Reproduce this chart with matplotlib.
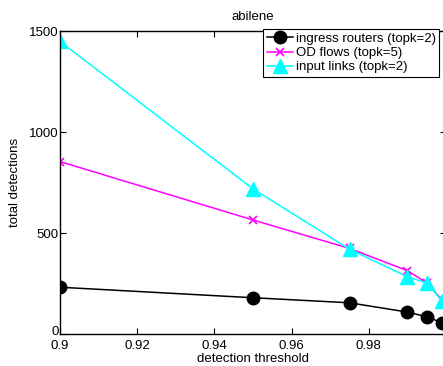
import matplotlib
matplotlib.use('Agg')
import matplotlib.pyplot as plt
import matplotlib.transforms as mtransforms

# detection thresholds
thresholds = [0.9, 0.95, 0.975, 0.99, 0.995, 0.999]

# total detections per series
ingress_routers = [233, 181, 156, 110, 87, 57]
od_flows = [855, 566, 425, 315, 255, 170]
input_links = [1450, 720, 421, 285, 254, 166]

plt.rcParams['font.family'] = ['Liberation Sans', 'DejaVu Sans']
plt.rcParams['font.size'] = 9.5

fig = plt.figure(figsize=(4.43, 3.66), dpi=100)
ax = fig.add_axes([60/443, 1-334.3/366, 386/443, (334.3-31.3)/366])

ax.plot(thresholds, ingress_routers, 'k-o', markersize=9, linewidth=1.1,
        label='ingress routers (topk=2)')
ax.plot(thresholds, od_flows, '-x', color='magenta', markersize=6, linewidth=1.1,
        markeredgewidth=1.2, label='OD flows (topk=5)')
ax.plot(thresholds, input_links, '-^', color='cyan', markersize=10, linewidth=1.1,
        label='input links (topk=2)')

ax.set_xlim(0.9, 1.0)
ax.set_ylim(0, 1500)
ax.set_xticks([0.9, 0.92, 0.94, 0.96, 0.98])
ax.set_xticklabels(['0.9', '0.92', '0.94', '0.96', '0.98'])
ax.set_yticks([0, 500, 1000, 1500])
ax.tick_params(direction='in', top=True, right=True, length=4, width=0.8)
ax.tick_params(axis='x', pad=4)
ax.tick_params(axis='y', pad=1)
for s in ax.spines.values():
    s.set_linewidth(1.0)

# nudge the "0" label up a little so it clears "0.9"
zero_lbl = ax.get_yticklabels()[0]
zero_lbl.set_transform(zero_lbl.get_transform() +
                       mtransforms.ScaledTranslation(0, 2.5/72, fig.dpi_scale_trans))

ax.set_title('abilene', fontsize=9.5, pad=8)
ax.set_xlabel('detection threshold', labelpad=0.5)
ax.set_ylabel('total detections', labelpad=6)

leg = ax.legend(loc='upper right', bbox_to_anchor=((439 - 60) / 386, 1.006),
                fancybox=False, edgecolor='black', framealpha=1, handlelength=2.0,
                handletextpad=0.2, borderpad=0.25, labelspacing=0.15, borderaxespad=0)
leg.get_frame().set_linewidth(0.8)

fig.savefig('out.png', dpi=100)
